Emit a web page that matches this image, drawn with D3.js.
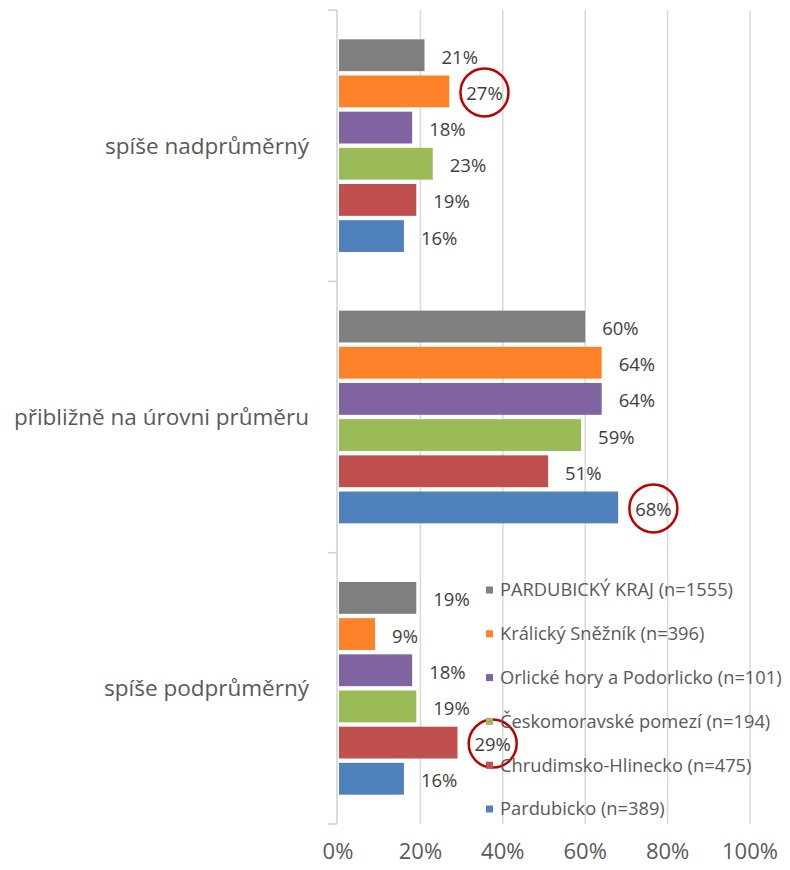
<!DOCTYPE html>
<html lang="cs">
<head>
<meta charset="utf-8">
<title>Hodnocení</title>
<script src="https://d3js.org/d3.v7.min.js"></script>
<style>
  body { margin: 0; background: #fff; }
  text { font-family: "Open Sans", sans-serif; }
</style>
</head>
<body>
<script>
var categories = ["spíše nadprůměrný", "přibližně na úrovni průměru", "spíše podprůměrný"];
var series = ["PARDUBICKÝ KRAJ (n=1555)", "Králický Sněžník (n=396)", "Orlické hory a Podorlicko (n=101)",
              "Českomoravské pomezí (n=194)", "Chrudimsko-Hlinecko (n=475)", "Pardubicko (n=389)"];
var colors = ["#7f7f7f", "#fe8229", "#8064a2", "#9bbb59", "#c0504d", "#4f81bd"];
// values per category, in series order
var nadprumerny = [0.21, 0.27, 0.18, 0.23, 0.19, 0.16];
var prumer      = [0.60, 0.64, 0.64, 0.59, 0.51, 0.68];
var podprumerny = [0.19, 0.09, 0.18, 0.19, 0.29, 0.16];
var ticks = [0, 0.2, 0.4, 0.6, 0.8, 1];
// circled labels [category index, series index]
var circled = [[0, 1], [1, 5], [2, 4]];

var values = [nadprumerny, prumer, podprumerny];
var width = 790, height = 870;

var svg = d3.select("body").append("svg")
  .attr("width", width)
  .attr("height", height);

var x = d3.scaleLinear().domain([0, 1]).range([338, 750]);
var y0 = d3.scaleBand().domain(categories).range([10, 824]);
var y1 = d3.scaleBand().domain(series)
  .range([0.1 * y0.bandwidth(), 0.9 * y0.bandwidth()])
  .paddingInner(0.12).paddingOuter(0.06);
var color = d3.scaleOrdinal().domain(series).range(colors);

// gridlines
svg.append("g").selectAll("line")
  .data(ticks.slice(1))
  .enter().append("line")
    .attr("x1", function(d){ return x(d); })
    .attr("x2", function(d){ return x(d); })
    .attr("y1", 10).attr("y2", 824)
    .attr("stroke", "#d9d9d9").attr("stroke-width", 1.5);

// category axis
var ax = svg.append("g").attr("transform", "translate(337,0)");
ax.append("line").attr("y1", 10).attr("y2", 824).attr("stroke", "#d0d0d0").attr("stroke-width", 1.5);
ax.selectAll(".sep")
  .data(d3.range(categories.length + 1))
  .enter().append("line")
    .attr("x1", -9).attr("x2", 0)
    .attr("y1", function(i){ return 10 + i * y0.step(); })
    .attr("y2", function(i){ return 10 + i * y0.step(); })
    .attr("stroke", "#d0d0d0").attr("stroke-width", 1.5);
ax.selectAll(".cat")
  .data(categories)
  .enter().append("text")
    .attr("x", -28)
    .attr("y", function(d){ return y0(d) + y0.bandwidth() / 2; })
    .attr("dy", "0.35em")
    .attr("text-anchor", "end")
    .attr("fill", "#595959")
    .style("font-size", "22.5px")
    .text(function(d){ return d; });

// x tick labels
svg.append("g").selectAll("text")
  .data(ticks)
  .enter().append("text")
    .attr("x", function(d){ return x(d); })
    .attr("y", 859)
    .attr("text-anchor", "middle")
    .attr("fill", "#595959")
    .style("font-size", "22px")
    .text(d3.format(".0%"));

// bars
var groups = svg.append("g").selectAll("g")
  .data(categories)
  .enter().append("g")
    .attr("transform", function(d){ return "translate(0," + y0(d) + ")"; });

groups.selectAll("rect")
  .data(function(d, i){ return series.map(function(s, j){ return {cat: i, ser: j, name: s, value: values[i][j]}; }); })
  .enter().append("rect")
    .attr("x", x(0) + 1)
    .attr("y", function(d){ return y1(d.name); })
    .attr("width", function(d){ return x(d.value) - x(0) - 1; })
    .attr("height", y1.bandwidth())
    .attr("fill", function(d){ return color(d.name); });

// legend
var legend = svg.append("g").selectAll("g")
  .data(series)
  .enter().append("g")
    .attr("transform", function(d, i){ return "translate(486," + (590 + i * 43.8) + ")"; });
legend.append("rect")
  .attr("x", 0).attr("y", -3.5).attr("width", 7).attr("height", 7)
  .attr("fill", function(d){ return color(d); });
legend.append("text")
  .attr("x", 14).attr("dy", "0.35em")
  .attr("fill", "#595959")
  .style("font-size", "18.3px")
  .text(function(d){ return d; });

// data labels
var labels = groups.selectAll(".lbl")
  .data(function(d, i){ return series.map(function(s, j){ return {cat: i, ser: j, name: s, value: values[i][j]}; }); })
  .enter().append("text")
    .attr("class", "lbl")
    .attr("x", function(d){ return x(d.value) + 17; })
    .attr("y", function(d){ return y1(d.name) + y1.bandwidth() / 2 + 2; })
    .attr("dy", "0.35em")
    .attr("fill", "#404040")
    .style("font-size", "18.5px")
    .text(function(d){ return d3.format(".0%")(d.value); });

// red circles round selected labels
labels.each(function(d){
  var hit = circled.some(function(c){ return c[0] === d.cat && c[1] === d.ser; });
  if (!hit) return;
  var b = this.getBBox();
  d3.select(this.parentNode).append("circle")
    .attr("cx", b.x + b.width / 2)
    .attr("cy", b.y + b.height / 2)
    .attr("r", 24)
    .attr("fill", "none")
    .attr("stroke", "#c00000")
    .attr("stroke-width", 2.5);
});
</script>
</body>
</html>
